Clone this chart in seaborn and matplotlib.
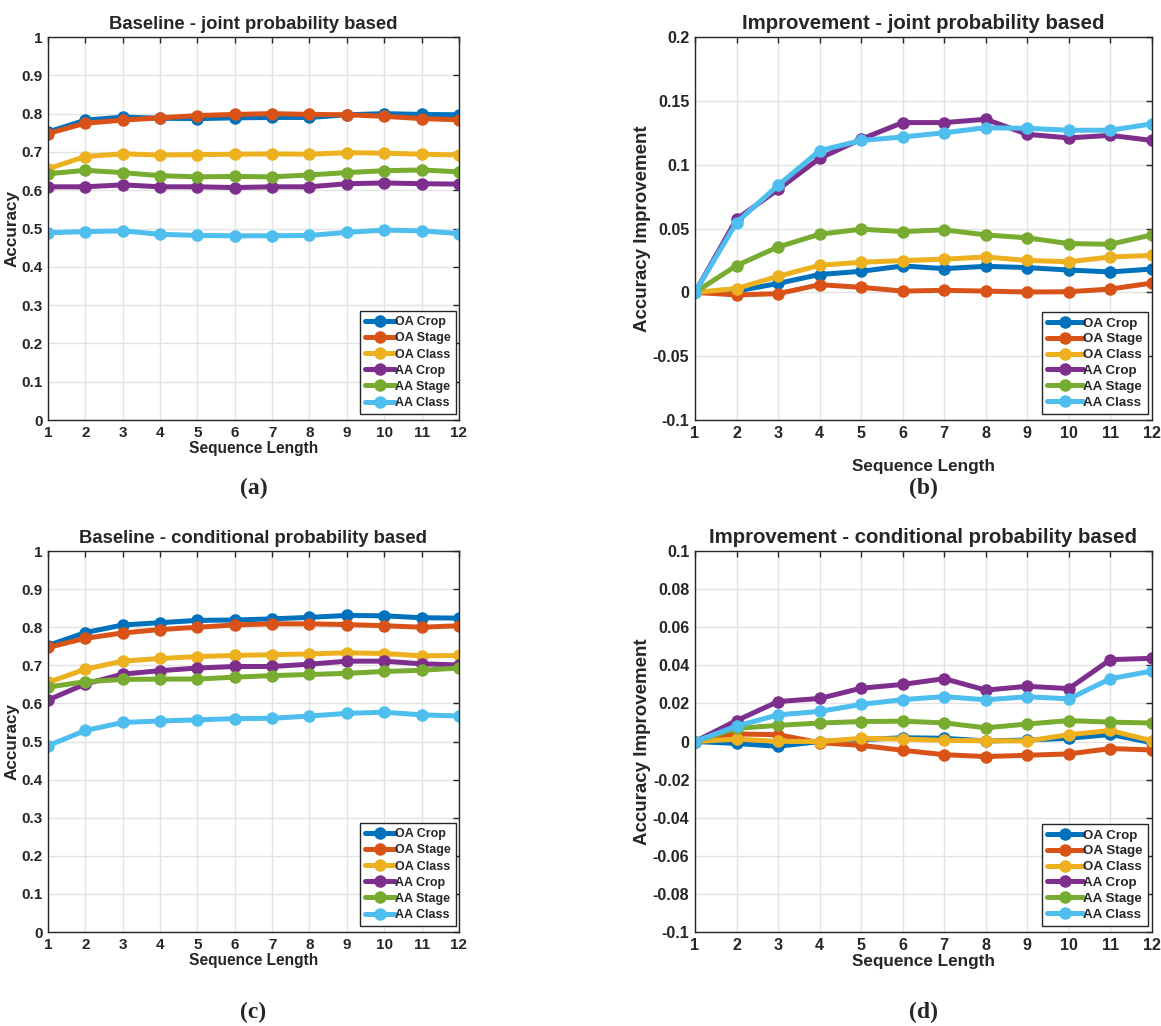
import numpy as np
import pandas as pd
import matplotlib
matplotlib.use('Agg')
import matplotlib.pyplot as plt
import seaborn as sns
from matplotlib.ticker import FuncFormatter

sns.set_style("white")
plt.rcParams['font.family'] = ['Liberation Sans', 'DejaVu Sans']

# 数据
seq_len = list(range(1, 13))
series_names = ['OA Crop', 'OA Stage', 'OA Class', 'AA Crop', 'AA Stage', 'AA Class']
colors = ['#0072BD', '#D95319', '#EDB120', '#7E2F8E', '#77AC30', '#4DBEEE']

# (a) baseline joint
a_oa_crop = [0.752, 0.783, 0.791, 0.788, 0.787, 0.789, 0.790, 0.790, 0.797, 0.800, 0.798, 0.797]
a_oa_stage = [0.748, 0.775, 0.783, 0.789, 0.795, 0.798, 0.800, 0.798, 0.797, 0.793, 0.787, 0.784]
a_oa_class = [0.656, 0.688, 0.695, 0.692, 0.693, 0.694, 0.695, 0.694, 0.698, 0.697, 0.694, 0.692]
a_aa_crop = [0.609, 0.609, 0.614, 0.609, 0.609, 0.607, 0.609, 0.609, 0.617, 0.619, 0.617, 0.616]
a_aa_stage = [0.643, 0.652, 0.646, 0.638, 0.635, 0.636, 0.635, 0.640, 0.646, 0.651, 0.653, 0.648]
a_aa_class = [0.489, 0.492, 0.494, 0.485, 0.482, 0.481, 0.481, 0.482, 0.490, 0.496, 0.494, 0.487]

# (b) improvement joint
b_oa_crop = [0.0, 0.001, 0.007, 0.014, 0.0165, 0.0207, 0.0186, 0.0204, 0.0194, 0.0175, 0.016, 0.0183]
b_oa_stage = [0.0, -0.002, -0.001, 0.006, 0.004, 0.001, 0.0016, 0.001, 0.0003, 0.0005, 0.0026, 0.0073]
b_oa_class = [0.0, 0.003, 0.0126, 0.0212, 0.0236, 0.0249, 0.026, 0.0277, 0.025, 0.024, 0.0277, 0.029]
b_aa_crop = [0.0, 0.0573, 0.0806, 0.105, 0.120, 0.133, 0.133, 0.1356, 0.1238, 0.121, 0.123, 0.119]
b_aa_stage = [0.0, 0.021, 0.0356, 0.0455, 0.0495, 0.0476, 0.049, 0.045, 0.0427, 0.0382, 0.0377, 0.045]
b_aa_class = [0.0, 0.0547, 0.0838, 0.111, 0.119, 0.1217, 0.125, 0.129, 0.1285, 0.127, 0.127, 0.132]

# (c) baseline conditional
c_oa_crop = [0.752, 0.786, 0.806, 0.812, 0.818, 0.819, 0.822, 0.826, 0.831, 0.830, 0.825, 0.824]
c_oa_stage = [0.747, 0.771, 0.785, 0.794, 0.800, 0.806, 0.809, 0.809, 0.807, 0.804, 0.800, 0.804]
c_oa_class = [0.655, 0.690, 0.711, 0.718, 0.723, 0.726, 0.728, 0.730, 0.733, 0.731, 0.725, 0.726]
c_aa_crop = [0.609, 0.651, 0.677, 0.686, 0.693, 0.697, 0.697, 0.703, 0.711, 0.711, 0.704, 0.701]
c_aa_stage = [0.643, 0.657, 0.663, 0.664, 0.664, 0.669, 0.673, 0.676, 0.679, 0.684, 0.687, 0.693]
c_aa_class = [0.489, 0.529, 0.550, 0.554, 0.557, 0.560, 0.561, 0.567, 0.574, 0.577, 0.570, 0.567]

# (d) improvement conditional
d_oa_crop = [0.0, -0.001, -0.0025, 0.0, 0.001, 0.002, 0.0017, 0.0003, 0.0008, 0.0017, 0.0037, -0.0006]
d_oa_stage = [0.0, 0.004, 0.0036, -0.0006, -0.002, -0.0046, -0.0069, -0.0079, -0.0072, -0.0065, -0.0037, -0.0044]
d_oa_class = [0.0, 0.0013, 0.0001, 0.0, 0.0017, 0.0013, 0.0006, 0.0004, 0.0003, 0.0036, 0.0058, 0.0004]
d_aa_crop = [0.0, 0.011, 0.021, 0.0226, 0.028, 0.030, 0.033, 0.027, 0.029, 0.0278, 0.043, 0.0437]
d_aa_stage = [0.0, 0.0069, 0.0085, 0.0097, 0.0105, 0.0107, 0.0098, 0.0072, 0.0092, 0.011, 0.0102, 0.0097]
d_aa_class = [0.0, 0.0081, 0.014, 0.0158, 0.0195, 0.022, 0.0236, 0.0219, 0.0235, 0.0224, 0.033, 0.037]

panels = [
    {'title': 'Baseline - joint probability based', 'ylabel': 'Accuracy', 'tag': '(a)',
     'data': [a_oa_crop, a_oa_stage, a_oa_class, a_aa_crop, a_aa_stage, a_aa_class],
     'ylim': (0, 1), 'yticks': np.arange(0, 1.01, 0.1),
     'pos': [0.0413, 0.5906, 0.354, 0.3733], 'tag_y': 0.524},
    {'title': 'Improvement - joint probability based', 'ylabel': 'Accuracy Improvement', 'tag': '(b)',
     'data': [b_oa_crop, b_oa_stage, b_oa_class, b_aa_crop, b_aa_stage, b_aa_class],
     'ylim': (-0.1, 0.2), 'yticks': np.arange(-0.1, 0.201, 0.05),
     'pos': [0.5986, 0.5906, 0.3936, 0.3733], 'tag_y': 0.524},
    {'title': 'Baseline - conditional probability based', 'ylabel': 'Accuracy', 'tag': '(c)',
     'data': [c_oa_crop, c_oa_stage, c_oa_class, c_aa_crop, c_aa_stage, c_aa_class],
     'ylim': (0, 1), 'yticks': np.arange(0, 1.01, 0.1),
     'pos': [0.0413, 0.0916, 0.354, 0.3713], 'tag_y': 0.0135},
    {'title': 'Improvement - conditional probability based', 'ylabel': 'Accuracy Improvement', 'tag': '(d)',
     'data': [d_oa_crop, d_oa_stage, d_oa_class, d_aa_crop, d_aa_stage, d_aa_class],
     'ylim': (-0.1, 0.1), 'yticks': np.arange(-0.1, 0.101, 0.02),
     'pos': [0.5986, 0.0916, 0.3936, 0.3713], 'tag_y': 0.0135},
]

fig = plt.figure(figsize=(11.61, 10.26), dpi=100)
fmt = FuncFormatter(lambda v, p: ('%g' % round(v, 4)))

for i, pnl in enumerate(panels):
    right = i % 2 == 1
    k = 1.1 if right else 1.0   # 右侧子图整体略大
    ax = fig.add_axes(pnl['pos'])
    rows = []
    for name, vals in zip(series_names, pnl['data']):
        for x, v in zip(seq_len, vals):
            rows.append({'Sequence Length': x, 'value': v, 'series': name})
    df = pd.DataFrame(rows)
    sns.lineplot(data=df, x='Sequence Length', y='value', hue='series',
                 hue_order=series_names, palette=colors, marker='o', markersize=9,
                 markeredgewidth=0, linewidth=3.6, ax=ax, legend=False)
    ax.set_xlim(1, 12)
    ax.set_ylim(*pnl['ylim'])
    ax.set_xticks(seq_len)
    ax.set_yticks(pnl['yticks'])
    ax.yaxis.set_major_formatter(fmt)
    ax.grid(True, color='#e3e3e3', linewidth=1)
    ax.set_axisbelow(True)
    ax.tick_params(direction='in', length=4, width=1, top=True, right=True,
                   labelsize=11.6 if right else 11, pad=4, colors='#262626')
    for lab in ax.get_xticklabels() + ax.get_yticklabels():
        lab.set_fontweight('bold')
    for sp in ax.spines.values():
        sp.set_color('#262626')
        sp.set_linewidth(1)
    ax.set_title(pnl['title'], fontsize=13.3 * k, fontweight='bold', pad=6)
    ax.set_ylabel(pnl['ylabel'], fontsize=12.3 * k, fontweight='bold', color='#262626', labelpad=1)
    xpad = 13 if i == 1 else 1
    ax.set_xlabel('Sequence Length', fontsize=11.2 * k, fontweight='bold', color='#262626', labelpad=xpad)
    leg_fs = 9.6 if right else 9
    leg = ax.legend(ax.get_lines()[:6], series_names, loc='lower right',
                    bbox_to_anchor=(0.992, 0.016), prop={'weight': 'bold', 'size': leg_fs},
                    handlelength=2.7 if right else 2.4, handletextpad=0.0,
                    labelspacing=0.26 if right else 0.33,
                    borderpad=0.4, borderaxespad=0, fancybox=False, framealpha=1,
                    edgecolor='#262626')
    leg.get_frame().set_linewidth(1)
    cx = pnl['pos'][0] + pnl['pos'][2] / 2
    fig.text(cx, pnl['tag_y'], pnl['tag'], ha='center', va='center',
             fontsize=17, fontweight='bold', family='Liberation Serif')

fig.savefig('out.png', dpi=100)
